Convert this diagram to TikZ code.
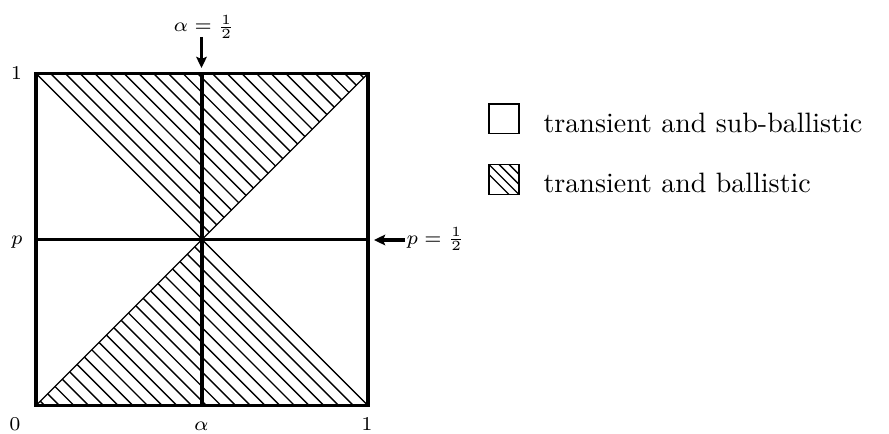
\documentclass[tikz,border=0pt]{standalone}
\usetikzlibrary{arrows.meta}
\begin{document}
\begin{tikzpicture}[x=0.357pt,y=-0.357pt,
  frame/.style={line width=1.25pt},
  hatchline/.style={line width=0.5pt},
  legbox/.style={line width=0.5pt},
  marker/.style={line width=1.2pt,-{Stealth[length=4pt,width=3.8pt,inset=0.8pt]}},
  axlabel/.style={font=\scriptsize,inner sep=0pt},
  legtext/.style={anchor=base west,inner sep=0pt}]
\useasboundingbox (0,0) rectangle (889,433);
% corners of the unit square
\coordinate (TL) at (36,73.5);
\coordinate (TR) at (368,73.5);
\coordinate (BL) at (36,405.5);
\coordinate (BR) at (368,405.5);
\coordinate (C) at (202,239.5);
\coordinate (TM) at (202,73.5);
\coordinate (BM) at (202,405.5);
\coordinate (ML) at (36,239.5);
\coordinate (MR) at (368,239.5);
% hatched hourglass
\begin{scope}
  \clip (TL) -- (TR) -- (C) -- cycle (BL) -- (BR) -- (C) -- cycle;
  \foreach \k in {-26,...,26}{
    \pgfmathsetmacro\cc{-37.5+14.7*\k}
    \draw[hatchline] (\cc+73.5,73.5) -- (\cc+405.5,405.5);
  }
\end{scope}
\draw[hatchline] (TL) -- (C) -- (TR);
\draw[hatchline] (BL) -- (C) -- (BR);
% frame and cross
\draw[frame] (TL) rectangle (BR);
\draw[frame] (TM) -- (BM);
\draw[frame] (ML) -- (MR);
% axis labels
\node[axlabel,anchor=base] (onetop) at (16.5,80) {$1$};
\node[axlabel,anchor=base] (plab) at (17,244) {$p$};
\node[axlabel,anchor=base] (zero) at (15,430) {$0$};
\node[axlabel,anchor=base] (alab) at (201.5,430) {$\alpha$};
\node[axlabel,anchor=base] (onebot) at (367,430) {$1$};
% markers
\node[axlabel,anchor=base] (ahalf) at (204,32) {$\alpha=\frac12$};
\coordinate (atop) at (201.5,37);
\coordinate (abot) at (201.5,68);
\draw[marker] (atop) -- (abot);
\node[axlabel,anchor=base west] (phalf) at (406,244) {$p=\frac12$};
\coordinate (pstart) at (405,240);
\coordinate (pend) at (374,240);
\draw[marker] (pstart) -- (pend);
% legend
\draw[legbox] (489,104) rectangle (519,133.5);
\begin{scope}
  \clip (489,164.5) rectangle (519,194.5);
  \foreach \cc in {314.5,324.5,334.5,344.5}{
    \draw[hatchline] (\cc+164.5,164.5) -- (\cc+194.5,194.5);
  }
\end{scope}
\draw[legbox] (489,164.5) rectangle (519,194.5);
\node[legtext] (leg1) at (543,133) {transient and sub-ballistic};
\node[legtext] (leg2) at (543,193) {transient and ballistic};
\end{tikzpicture}
\end{document}
